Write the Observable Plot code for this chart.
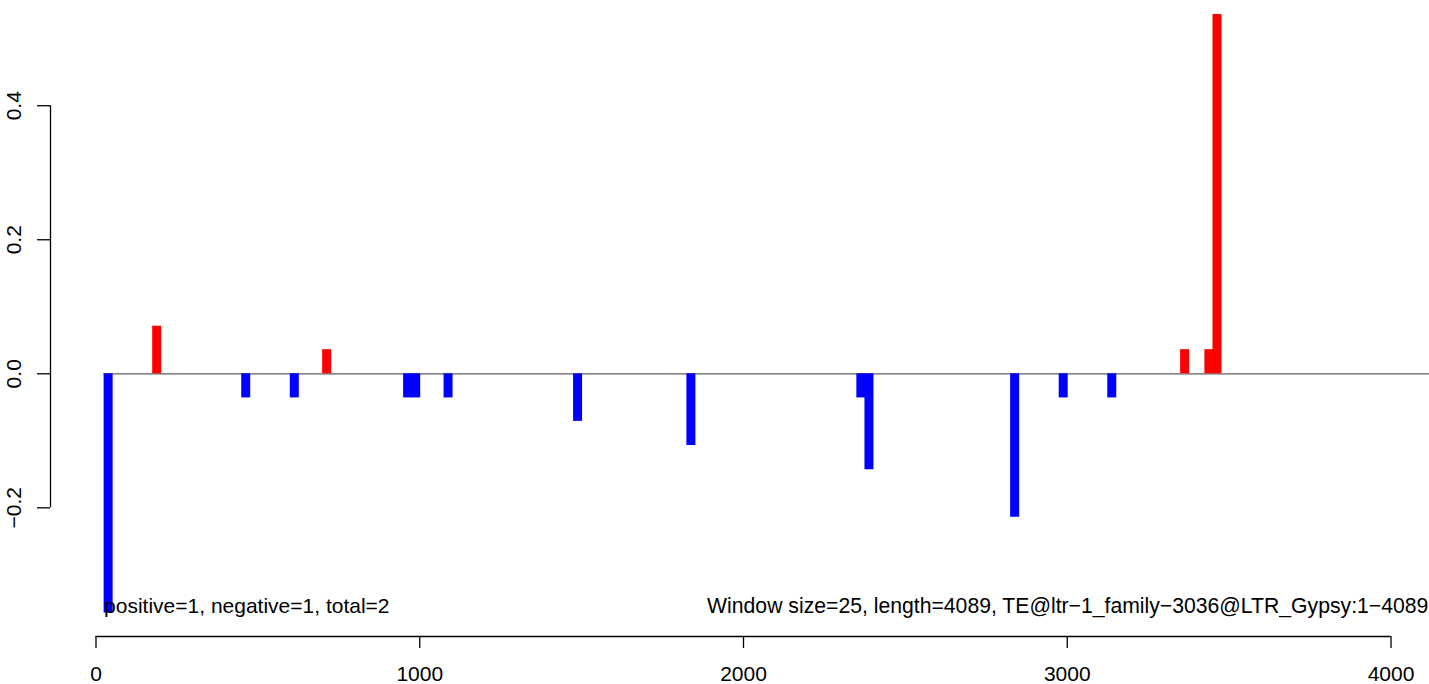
<!DOCTYPE html>
<html>
<head>
<meta charset="utf-8">
<script src="https://cdn.jsdelivr.net/npm/d3@7"></script>
<script src="https://cdn.jsdelivr.net/npm/@observablehq/plot@0.6"></script>
<style>
  html, body { margin: 0; padding: 0; background: #fff; overflow: hidden; }
  #chart svg { display: block; }
</style>
</head>
<body>
<div id="chart"></div>
<script>
// Window centres (bp) and signed values
const positions = [37.5, 187.5, 462.5, 612.5, 712.5, 962.5, 987.5, 1087.5, 1487.5, 1837.5,
                   2362.5, 2387.5, 2837.5, 2987.5, 3137.5, 3362.5, 3437.5, 3462.5];
const values = [-0.357, 0.071, -0.036, -0.036, 0.036, -0.036, -0.036, -0.036, -0.071, -0.107,
                -0.036, -0.143, -0.214, -0.036, -0.036, 0.036, 0.036, 0.536];
const xTicks = [0, 1000, 2000, 3000, 4000];
const yTicks = [-0.2, 0, 0.2, 0.4];
const seqStart = 25;
const seqLength = 4089;
const leftLabel = "positive=1, negative=1, total=2";
const rightLabel = "Window size=25, length=4089, TE@ltr\u22121_family\u22123036@LTR_Gypsy:1\u22124089";

const data = positions.map((x, i) => ({x, value: values[i]}));
const minVal = d3.min(values);
const xDomain = [-140.5, 4118.9];
const yDomain = [-0.392, 0.557];
const fmtMinus = s => s.replace("-", "\u2212");

const chart = Plot.plot({
  width: 1429,
  height: 684,
  marginLeft: 50,
  marginRight: 0,
  marginTop: 0,
  marginBottom: 48,
  style: {fontFamily: "'Liberation Sans', Arial, Helvetica, sans-serif", fontSize: "21px", background: "white", color: "black", overflow: "hidden"},
  x: {domain: xDomain, axis: null},
  y: {domain: yDomain, axis: null},
  color: {type: "identity"},
  marks: [
    // zero baseline
    Plot.ruleY([0], {x1: seqStart, x2: xDomain[1], stroke: "#5e5e5e", strokeWidth: 1.3}),
    // bars
    Plot.ruleX(data, {x: "x", y1: 0, y2: "value", stroke: d => d.value > 0 ? "#FF0000" : "#0000FF", strokeWidth: 9}),
    // x axis
    Plot.ruleY([yDomain[0]], {x1: xTicks[0], x2: xTicks[xTicks.length - 1], stroke: "black", strokeWidth: 1.3}),
    Plot.axisX({ticks: xTicks, tickSize: 12, tickPadding: 17.5, tickFormat: d => String(d), strokeWidth: 1.3, fontSize: 21, label: null}),
    // y axis
    Plot.ruleX([xDomain[0]], {y1: yTicks[0], y2: yTicks[yTicks.length - 1], stroke: "black", strokeWidth: 1.3}),
    Plot.axisY({ticks: yTicks, tickSize: 13, tickPadding: 16.5, tickRotate: -90, tickFormat: d => fmtMinus(d.toFixed(1)), strokeWidth: 1.3, fontSize: 21, label: null}),
    // annotations
    Plot.text([leftLabel], {x: seqStart, y: minVal, text: d => d, textAnchor: "start", lineAnchor: "bottom", fill: "black", fontSize: 21}),
    Plot.text([rightLabel], {x: seqLength, y: minVal, text: d => d, textAnchor: "end", lineAnchor: "bottom", dx: 8.5, fill: "black", fontSize: 21.2})
  ]
});
document.getElementById("chart").appendChild(chart);
</script>
</body>
</html>
